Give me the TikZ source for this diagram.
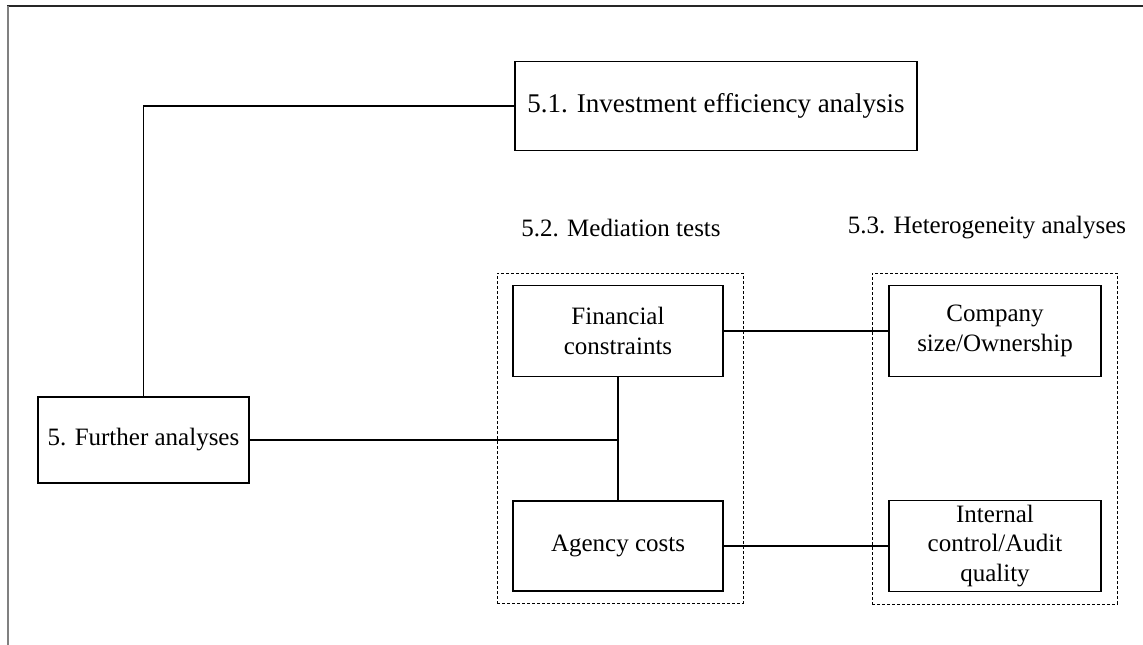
\documentclass[tikz,border=0pt]{standalone}
\usepackage{fontspec}
\setmainfont{Liberation Serif}
\begin{document}
\begin{tikzpicture}[x=1pt,y=-1pt,
  txt/.style={font=\fontsize{25}{29.5}\selectfont, align=center, inner sep=0pt},
  box/.style={txt, draw=black, line width=1.5pt, minimum width=#1},
  grp/.style={draw=black, line width=0.9pt, dash pattern=on 3pt off 2pt, inner sep=0pt},
  conn/.style={draw=black, line width=1.5pt}]
\useasboundingbox (0,0) rectangle (1143,645);
% page frame fragments
\draw[line width=1.5pt, black!85] (7,6) -- (1143,6);
\draw[line width=2pt, black!50] (8,6) -- (8,645);
% group frames
\node[grp, minimum width=246pt, minimum height=330pt] (d52) at (620,438) {};
\node[grp, minimum width=245pt, minimum height=331pt] (d53) at (994.5,438.5) {};
\node[txt] (l52) at (621,228) {5.2. Mediation tests};
\node[txt] (l53) at (987,228) {5.3. Heterogeneity analyses};
% boxes
\node[box=402pt, minimum height=89pt, font=\fontsize{27}{31}\selectfont] (b51) at (716,106) {5.1. Investment efficiency analysis};
\node[box=211pt, minimum height=86pt] (b5) at (143.5,440) {5. Further analyses};
\node[box=210pt, minimum height=91pt] (fin) at (618,331) {Financial\\constraints};
\node[box=210pt, minimum height=90pt] (ag) at (618,546) {Agency costs};
\node[box=212pt, minimum height=91pt] (comp) at (995,331) {Company\\size/Ownership};
\node[box=212pt, minimum height=91pt] (int) at (995,546) {Internal\\control/Audit\\quality};
% connectors
\draw[conn] (b5.north) |- (b51.west);
\draw[conn] (fin.south) -- (ag.north);
\draw[conn] (b5.east) -- (b5.east -| fin.south);
\draw[conn] (fin.east) -- (fin.east -| comp.west);
\draw[conn] (ag.east) -- (ag.east -| int.west);
\end{tikzpicture}
\end{document}
